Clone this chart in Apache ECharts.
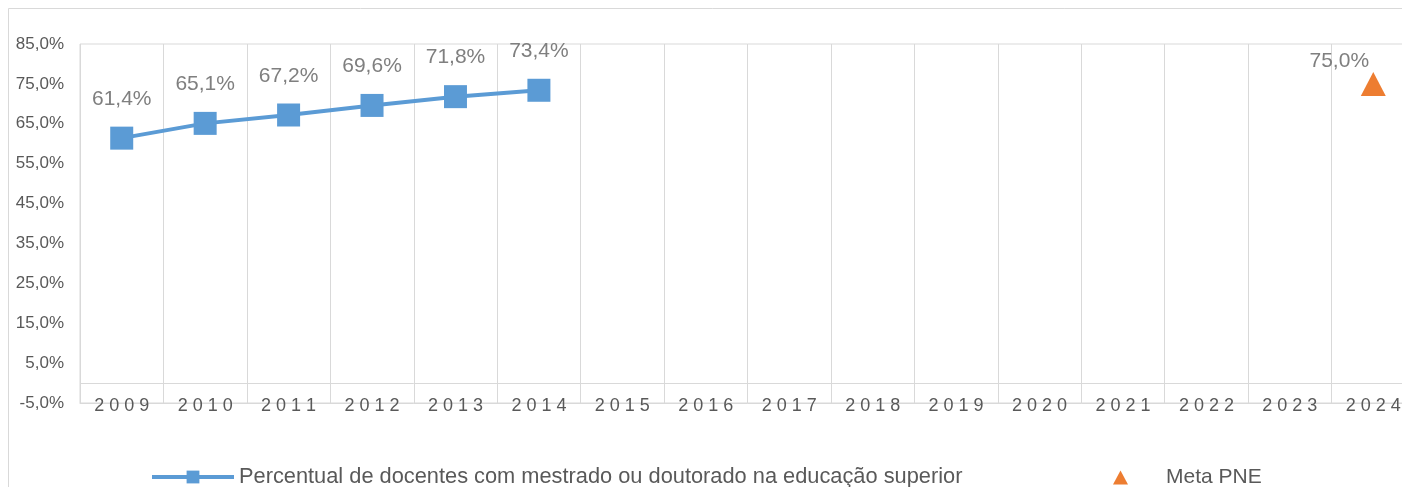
<!DOCTYPE html>
<html>
<head>
<meta charset="utf-8">
<script src="https://cdn.jsdelivr.net/npm/echarts@6/dist/echarts.min.js"></script>
<style>
html,body{margin:0;padding:0;background:#fff;overflow:hidden;}
#chart{width:1415px;height:487px;}
</style>
</head>
<body>
<div id="chart"></div>
<script>
const categories = ['2009','2010','2011','2012','2013','2014','2015','2016','2017','2018','2019','2020','2021','2022','2023','2024'];
const docentesValues = [61.4, 65.1, 67.2, 69.6, 71.8, 73.4];
const metaYear = '2024';
const metaValue = 75.0;
const seriesNames = ['Percentual de docentes com mestrado ou doutorado na educação superior', 'Meta PNE'];
const yMin = -5, yMax = 85, yStep = 10;

const FONT = "'Liberation Sans', Arial, sans-serif";
const fmtPct = v => v.toFixed(1).replace('.', ',') + '%';

const chart = echarts.init(document.getElementById('chart'));
chart.setOption({
  animation: false,
  backgroundColor: '#fff',
  textStyle: { fontFamily: FONT },
  graphic: [{
    type: 'rect', silent: true, z: -10,
    shape: { x: 8.5, y: 8.5, width: 2000, height: 2000 },
    style: { fill: 'none', stroke: '#d9d9d9', lineWidth: 1 }
  }],
  grid: { left: 80, top: 44, bottom: 84, right: 0, show: true, borderColor: '#d9d9d9', borderWidth: 1, containLabel: false },
  legend: [{
    left: 150, top: 466, padding: 0,
    data: [seriesNames[0]],
    itemWidth: 82, itemHeight: 16,
    lineStyle: { width: 4 },
    textStyle: { color: '#595959', fontSize: 21.8, fontFamily: FONT },
    selectedMode: false
  }, {
    left: 1108, top: 462,
    data: [seriesNames[1]],
    icon: 'triangle',
    itemWidth: 15, itemHeight: 14,
    itemStyle: { opacity: 1 },
    textStyle: { color: '#595959', fontSize: 21, fontFamily: FONT, padding: [0, 0, 0, 33] },
    selectedMode: false
  }],
  xAxis: {
    type: 'category',
    data: categories,
    boundaryGap: true,
    position: 'bottom',
    axisLine: { onZero: false, show: true, lineStyle: { color: '#d9d9d9' } },
    axisTick: { show: false },
    splitLine: { show: true, interval: 0, lineStyle: { color: '#d9d9d9', width: 1 } },
    axisLabel: {
      interval: 0, margin: -6,
      color: '#595959', fontSize: 18, fontFamily: FONT,
      formatter: v => v.split('').join(' ')
    }
  },
  yAxis: {
    type: 'value',
    min: yMin, max: yMax, interval: yStep,
    axisLine: { show: false },
    axisTick: { show: false },
    splitLine: { show: false },
    axisLabel: { color: '#595959', fontSize: 17, fontFamily: FONT, margin: 16, formatter: fmtPct }
  },
  series: [{
    name: seriesNames[0],
    type: 'line',
    data: docentesValues,
    symbol: 'rect',
    symbolSize: 23,
    itemStyle: { color: '#5b9bd5' },
    lineStyle: { color: '#5b9bd5', width: 4 },
    label: { show: true, position: 'top', distance: 17, color: '#7f7f7f', fontSize: 21, fontFamily: FONT, formatter: p => fmtPct(p.value) },
    markLine: {
      silent: true, symbol: 'none', label: { show: false },
      lineStyle: { color: '#d9d9d9', width: 1, type: 'solid' },
      data: [{ yAxis: 0 }]
    },
    z: 3
  }, {
    name: seriesNames[1],
    type: 'scatter',
    data: [[metaYear, metaValue]],
    symbol: 'triangle',
    symbolSize: [25, 24],
    itemStyle: { color: '#ed7d31', opacity: 1 },
    label: { show: true, position: 'top', distance: 0, offset: [-34, 0], color: '#7f7f7f', fontSize: 21, fontFamily: FONT, formatter: p => fmtPct(p.value[1]) },
    z: 3
  }]
});
</script>
</body>
</html>
